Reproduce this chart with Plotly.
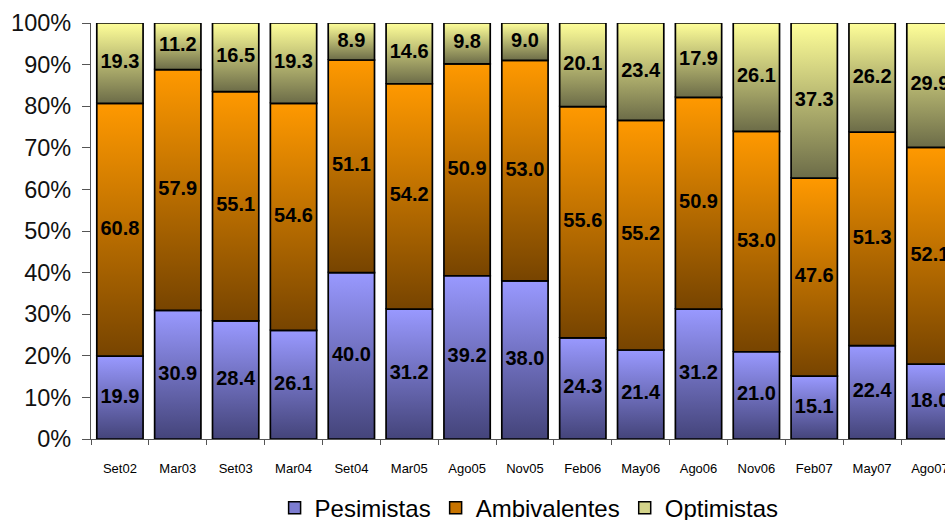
import plotly.graph_objects as go

categories = ["Set02", "Mar03", "Set03", "Mar04", "Set04", "Mar05", "Ago05", "Nov05",
              "Feb06", "May06", "Ago06", "Nov06", "Feb07", "May07", "Ago07"]
pesimistas = [19.9, 30.9, 28.4, 26.1, 40.0, 31.2, 39.2, 38.0, 24.3, 21.4, 31.2, 21.0, 15.1, 22.4, 18.0]
ambivalentes = [60.8, 57.9, 55.1, 54.6, 51.1, 54.2, 50.9, 53.0, 55.6, 55.2, 50.9, 53.0, 47.6, 51.3, 52.1]
optimistas = [19.3, 11.2, 16.5, 19.3, 8.9, 14.6, 9.8, 9.0, 20.1, 23.4, 17.9, 26.1, 37.3, 26.2, 29.9]
y_ticks = list(range(0, 101, 10))
y_tick_labels = [f"{v}%" for v in y_ticks]

series = [
    ("Pesimistas", pesimistas, "#44447a", "#9999ff", "#7c7cd0"),
    ("Ambivalentes", ambivalentes, "#774400", "#ff9900", "#c87400"),
    ("Optimistas", optimistas, "#6c6c48", "#ffff99", "#d4d48a"),
]

FONT = "Arial, Liberation Sans, sans-serif"
W = 0.8

fig = go.Figure()
totals = [sum(v) for v in zip(pesimistas, ambivalentes, optimistas)]
base = [0.0] * len(categories)

text_traces = []
for name, vals, dark, light, mid in series:
    mids = []
    for i, v in enumerate(vals):
        b = base[i]
        t = b + v / totals[i] * 100
        fig.add_trace(go.Scatter(
            x=[i - W / 2, i + W / 2, i + W / 2, i - W / 2, i - W / 2],
            y=[b, b, t, t, b],
            mode="lines", fill="toself",
            fillgradient=dict(type="vertical", colorscale=[[0, dark], [1, light]]),
            line=dict(color="black", width=1.7),
            name=name, legendgroup=name, showlegend=False,
            hoverinfo="skip",
        ))
        mids.append((b + t) / 2)
        base[i] = t
    # legend-only entry (square swatch)
    fig.add_trace(go.Bar(
        x=[None], y=[None], name=name, legendgroup=name,
        marker=dict(color=mid, line=dict(color="black", width=1.5)),
        showlegend=True, hoverinfo="skip",
    ))
    text_traces.append(go.Scatter(
        x=list(range(len(categories))), y=mids, mode="text",
        text=[f"{v:.1f}" for v in vals],
        textfont=dict(family=FONT, size=20, color="black", weight="bold"),
        showlegend=False, hoverinfo="skip",
    ))
for tt in text_traces:
    fig.add_trace(tt)

fig.update_layout(
    width=945, height=520,
    margin=dict(l=91, r=0, t=23, b=81, autoexpand=False),
    paper_bgcolor="white", plot_bgcolor="white",
    font=dict(family=FONT, color="black"),
    xaxis=dict(
        range=[-0.5, 14.26], tickvals=list(range(len(categories))), ticktext=categories,
        ticks="outside", ticklen=17, tickcolor="rgba(0,0,0,0)",
        ticklabeloverflow="allow", automargin=False,
        tickfont=dict(size=13, family=FONT, color="black"),
        showline=True, linecolor="#555555", linewidth=1.2,
        showgrid=False, zeroline=False, fixedrange=True,
        minor=dict(tick0=-0.5, dtick=1, ticks="outside", ticklen=5,
                   tickcolor="#555555", showgrid=False),
    ),
    yaxis=dict(
        range=[0, 100], tickvals=y_ticks, ticktext=y_tick_labels,
        ticks="outside", ticklen=8, tickcolor="#555555", ticklabelstandoff=6,
        automargin=False,
        tickfont=dict(size=23.5, family=FONT, color="#111111"),
        showline=True, linecolor="#555555", linewidth=1.2,
        showgrid=False, zeroline=False, fixedrange=True,
    ),
    legend=dict(
        orientation="h", x=0.513, xanchor="center", y=-0.166, yanchor="middle",
        font=dict(size=24, family=FONT, color="black"),
        itemwidth=30, tracegroupgap=0,
    ),
)

fig.write_html("out.html")
